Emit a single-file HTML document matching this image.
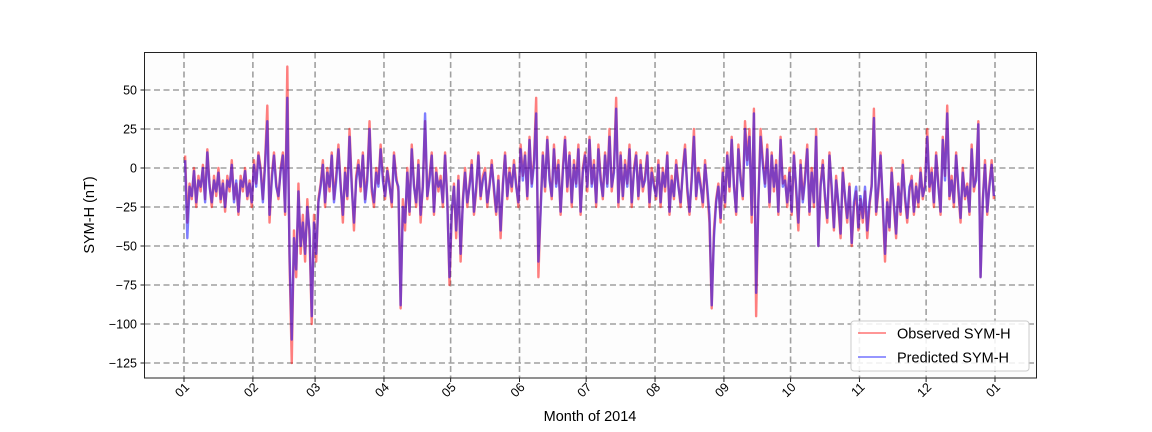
<!DOCTYPE html>
<html><head><meta charset="utf-8"><style>
html,body{margin:0;padding:0;background:#fff;}
svg{display:block;font-family:"Liberation Sans","DejaVu Sans",sans-serif;}
</style></head><body>
<svg id="chart" width="1152" height="432" viewBox="0 0 1152 432" xmlns="http://www.w3.org/2000/svg">
<rect x="0" y="0" width="1152" height="432" fill="#fff"/>
<rect x="144.5" y="52.5" width="892" height="325.5" fill="#fdfdfd"/>
<g id="grid"></g><g id="series"></g><g id="axes"></g>
<rect x="144.5" y="52.5" width="892" height="325.5" fill="none" stroke="#222" stroke-width="1"/>
<text transform="translate(94,215) rotate(-90)" text-anchor="middle" font-size="14.5">SYM-H (nT)</text>
<text x="590" y="421" text-anchor="middle" font-size="14.5">Month of 2014</text>
<g>
<rect x="851" y="321" width="178" height="50" rx="3" fill="#fff" fill-opacity="0.85" stroke="#ccc"/>
<line x1="858" y1="333" x2="886" y2="333" stroke="#ff0000" stroke-opacity="0.55" stroke-width="1.6"/>
<text x="897" y="338.5" font-size="14.5">Observed SYM-H</text>
<line x1="858" y1="357" x2="886" y2="357" stroke="#0000ff" stroke-opacity="0.55" stroke-width="1.6"/>
<text x="897" y="362.5" font-size="14.5">Predicted SYM-H</text>
</g>
</svg>
<script>
const monthLabels=["01","02","03","04","05","06","07","08","09","10","11","12","01"];
const monthStartDays=[0,31,59,90,120,151,181,212,243,273,304,334,365];
const yTicks=[50,25,0,-25,-50,-75,-100,-125];
const observed=[
8,-35,-10,-20,0,-25,-5,-15,2,-20,12,-10,-25,-5,-18,0,-22,-8,-28,-5,-15,5,-20,-10,-30,-5,-15,0,-20,-8,-25,
5,-10,10,0,-20,5,40,-35,-5,10,-10,-20,0,10,-30,65,-60,-125,-40,-70,-10,-55,-30,-60,-20,-45,-100,-30,
-60,-20,-10,5,-25,0,-15,10,-20,-5,15,-10,-35,0,-20,25,-10,-40,-5,5,-15,10,-20,-5,30,-15,-25,0,-10,15,-5,
-20,0,-10,-25,10,-5,-15,-90,-20,-40,0,-30,15,-10,-25,5,-35,-10,30,-20,-5,10,-30,0,-15,-5,-25,10,-20,-75,
-30,-10,-45,-5,-60,-20,0,-25,-10,5,-30,-15,10,-20,-5,0,-25,-10,5,-15,-30,-5,-45,-10,10,-20,0,-15,5,-10,-25,
15,-5,10,-20,20,-10,5,45,-70,-25,10,-15,20,-5,-20,15,-10,5,-30,0,20,-15,10,-25,5,-10,15,-30,0,10,
-15,20,-10,5,-25,15,-5,-20,10,-10,25,-15,0,45,-25,10,-20,5,-10,15,-25,0,10,-20,5,-15,-5,10,-25,0,-10,
-20,5,-25,0,-15,10,-30,-5,-20,5,-10,-25,0,15,-15,-30,-5,25,-20,0,-10,-25,5,-15,-35,-90,-40,-20,-10,-35,0,
-25,10,-15,20,-10,-30,15,-5,-20,30,5,25,-35,38,-95,-20,25,5,-10,15,-25,10,-15,5,-30,20,-10,-5,-25,0,
-30,10,-15,-40,5,-20,-5,15,-30,0,-25,25,-50,-10,5,-20,-35,10,-15,-40,-5,-25,-45,0,-20,-35,-10,-50,-25,-15,-40,
-20,-35,-15,-45,-25,-10,38,-30,-15,10,-25,-60,-20,-40,0,-25,-45,-10,-30,5,-20,-35,-15,-5,-30,-10,-25,0,-20,-10,
25,-15,0,-25,10,-10,-30,20,-5,40,-20,-5,-25,10,-15,-35,0,-20,-10,-30,15,-15,-5,30,-70,-20,5,-30,-10,5,-20];
const predicted=[
5,-45,-12,-18,-2,-22,-8,-12,0,-22,10,-12,-22,-8,-15,-3,-20,-10,-25,-8,-12,2,-22,-8,-28,-8,-12,-2,-18,-10,-22,
2,-12,8,-2,-22,2,30,-30,-8,8,-12,-18,-2,8,-28,45,-55,-110,-45,-65,-15,-50,-35,-55,-25,-40,-95,-35,
-55,-22,-12,2,-22,-3,-12,8,-22,-8,12,-12,-30,-3,-18,20,-12,-35,-8,2,-12,8,-22,-8,25,-12,-22,-3,-12,12,-8,
-18,-2,-12,-22,8,-8,-12,-88,-25,-35,-3,-28,12,-12,-22,2,-30,-12,35,-18,-8,8,-28,-3,-12,-8,-22,8,-22,-70,
-28,-12,-40,-8,-55,-22,-3,-22,-12,2,-28,-12,8,-18,-8,-3,-22,-12,2,-12,-28,-8,-40,-12,8,-18,-3,-12,2,-12,-22,
12,-8,8,-18,18,-12,2,35,-60,-28,8,-12,18,-8,-18,12,-12,2,-28,-3,18,-12,8,-22,2,-12,12,-28,-3,8,
-12,18,-12,2,-22,12,-8,-18,8,-12,20,-12,-3,38,-22,8,-18,2,-12,12,-22,-3,8,-18,2,-12,-8,8,-22,-3,-12,
-18,2,-22,-3,-12,8,-28,-8,-18,2,-12,-22,-3,12,-12,-28,-8,20,-18,-3,-12,-22,2,-12,-30,-88,-45,-22,-12,-32,-3,
-22,8,-12,18,-12,-28,12,-8,-18,25,2,20,-30,35,-80,-22,20,2,-12,12,-22,8,-12,2,-28,18,-12,-8,-22,-3,
-28,8,-12,-35,2,-22,-8,12,-28,-3,-22,20,-50,-12,2,-18,-32,8,-12,-38,-8,-22,-42,-3,-18,-32,-12,-48,-22,-12,-38,
-18,-32,-12,-40,-22,-12,32,-28,-12,8,-22,-55,-22,-38,-3,-22,-42,-12,-28,2,-18,-32,-12,-8,-28,-12,-22,-3,-18,-12,
20,-12,-3,-22,8,-12,-28,18,-8,35,-18,-8,-22,8,-12,-32,-3,-18,-12,-28,12,-12,-8,28,-70,-22,2,-28,-12,2,-18];

const X0=184, DAYPX=(995-184)/365, Y0=168, YPX=1.56;
const xs=d=>X0+d*DAYPX;
const ys=v=>Y0-v*YPX;
const NS="http://www.w3.org/2000/svg";
const grid=document.getElementById('grid'), axes=document.getElementById('axes'), series=document.getElementById('series');
function mk(tag,attrs,parent){const e=document.createElementNS(NS,tag);for(const k in attrs)e.setAttribute(k,attrs[k]);parent.appendChild(e);return e;}
yTicks.forEach(v=>{
  const y=ys(v);
  const g=mk('line',{x1:144.5,x2:1036.5,y1:y,y2:y,stroke:'#a0a0a0','stroke-width':1.6,'stroke-dasharray':'6,3.5'},grid);
  
  
  mk('line',{x1:140.5,x2:144.5,y1:y,y2:y,stroke:'#222'},axes);
  const t=mk('text',{x:137,y:y+4.5,'text-anchor':'end','font-size':12.5},axes);
  t.textContent=(v<0?'\u2212'+(-v):String(v));
  
  
});
monthStartDays.forEach((d,i)=>{
  const x=xs(d);
  const g=mk('line',{x1:x,x2:x,y1:52.5,y2:378,stroke:'#a0a0a0','stroke-width':1.6,'stroke-dasharray':'6,3.5'},grid);
  
  
  mk('line',{x1:x,x2:x,y1:378,y2:382,stroke:'#222'},axes);
  const t=mk('text',{transform:`translate(${x+6},${388}) rotate(-45)`,'text-anchor':'end','font-size':12.5},axes);
  t.textContent=monthLabels[i];
  
  
});
function draw(arr,color,name){
  const pts=arr.map((v,i)=>xs(i+0.5).toFixed(2)+','+ys(v).toFixed(2)).join(' ');
  const p=mk('polyline',{points:pts,fill:'none',stroke:color,'stroke-opacity':0.5,'stroke-width':2.4,'stroke-linejoin':'round'},series);
  
  
}
draw(observed,'#ff0000','observed-line');
draw(predicted,'#0000ff','predicted-line');
</script>
</body></html>
